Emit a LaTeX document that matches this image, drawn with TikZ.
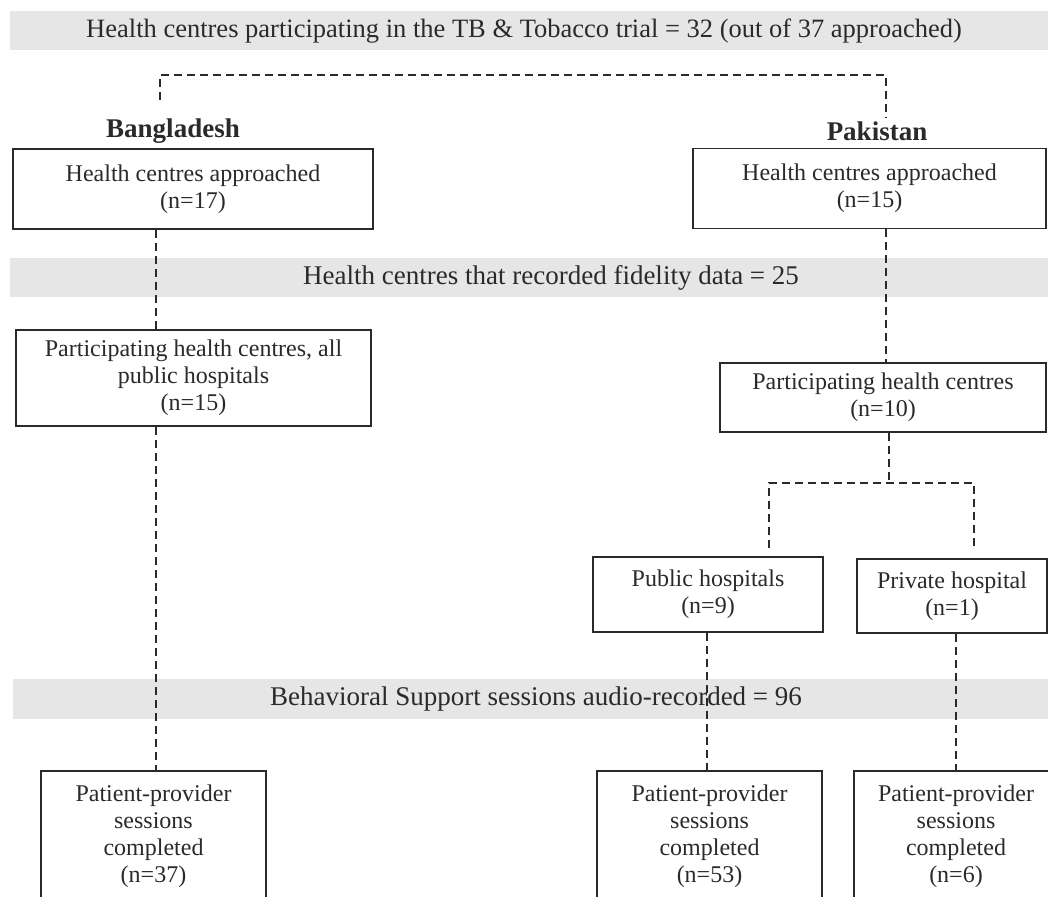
\documentclass[tikz,border=0pt]{standalone}
\usepackage{fontspec}
\setmainfont{Liberation Serif}
\definecolor{ink}{HTML}{2A2A2A}
\definecolor{bandgray}{HTML}{E6E6E6}
\begin{document}
\begin{tikzpicture}[x=1pt,y=-1pt,
  box/.style={draw=ink, line width=1.8pt, align=center, inner sep=0pt, text=ink, font=\fontsize{24}{27}\selectfont},
  bandtext/.style={text=ink, inner sep=0pt, font=\fontsize{27}{30}\selectfont},
  country/.style={text=ink, inner sep=0pt, font=\fontsize{27}{30}\selectfont\bfseries},
  link/.style={draw=ink, line width=1.8pt, dash pattern=on 8pt off 5pt},
  tall/.style={box, anchor=north, inner ysep=14pt, text depth=40pt}]
\useasboundingbox (0,0) rectangle (1048,896);
\clip (0,0) rectangle (1048,896);
% bands
\fill[bandgray] (10,11) rectangle (1048,50);
\fill[bandgray] (10,258) rectangle (1048,297);
\fill[bandgray] (13,679) rectangle (1048,719);
\node[bandtext, font=\fontsize{26.5}{30}\selectfont] (band1) at (524,31) {Health centres participating in the TB \& Tobacco trial = 32 (out of 37 approached)};
\node[bandtext] (band2) at (551,278) {Health centres that recorded fidelity data = 25};
\node[bandtext] (band3) at (536,699) {Behavioral Support sessions audio-recorded = 96};
% country labels
\node[country] (bd) at (173,131) {Bangladesh};
\node[country] (pk) at (877,131) {Pakistan};
% boxes
\node[box, minimum width=360pt, minimum height=80pt] (bd1) at (193,189) {Health centres approached\\(n=17)};
\node[box, minimum width=353pt, minimum height=80pt] (pk1) at (869.5,188.5) {Health centres approached\\(n=15)};
\node[box, minimum width=355pt, minimum height=96pt] (bd2) at (193.5,378) {Participating health centres, all\\public hospitals\\(n=15)};
\node[box, minimum width=326pt, minimum height=69pt] (pk2) at (883,397.5) {Participating health centres\\(n=10)};
\node[box, minimum width=230pt, minimum height=75pt] (pub) at (708,594.5) {Public hospitals\\(n=9)};
\node[box, minimum width=190pt, minimum height=74pt] (priv) at (952,596) {Private hospital\\(n=1)};
\node[tall, minimum width=225pt] (bd3) at (153.5,770) {Patient-provider\\sessions\\completed\\(n=37)};
\node[tall, minimum width=225pt] (pk3a) at (709.5,770) {Patient-provider\\sessions\\completed\\(n=53)};
\node[tall, minimum width=204pt] (pk3b) at (956,770) {Patient-provider\\sessions\\completed\\(n=6)};
% connector guide coordinates
\coordinate (tl) at (160,100);
\coordinate (tr) at (886,118);
\coordinate (topy) at (0,75);
\coordinate (bdx) at (156,0);
\coordinate (pkx) at (886,0);
\coordinate (j) at (889,483);
\coordinate (jl) at (769,548);
\coordinate (jr) at (974,548);
\coordinate (pubx) at (707,0);
\coordinate (privx) at (956,0);
% connectors
\draw[link] (tl) |- (topy -| tr) -- (tr);
\draw[link] (bd1.south -| bdx) -- (bd2.north -| bdx);
\draw[link] (bd2.south -| bdx) -- (bd3.north -| bdx);
\draw[link] (pk1.south -| pkx) -- (pk2.north -| pkx);
\draw[link] (pk2.south -| j) -- (j);
\draw[link] (jl) |- (j) -| (jr);
\draw[link] (pub.south -| pubx) -- (pk3a.north -| pubx);
\draw[link] (priv.south -| privx) -- (pk3b.north -| privx);
\end{tikzpicture}
\end{document}
